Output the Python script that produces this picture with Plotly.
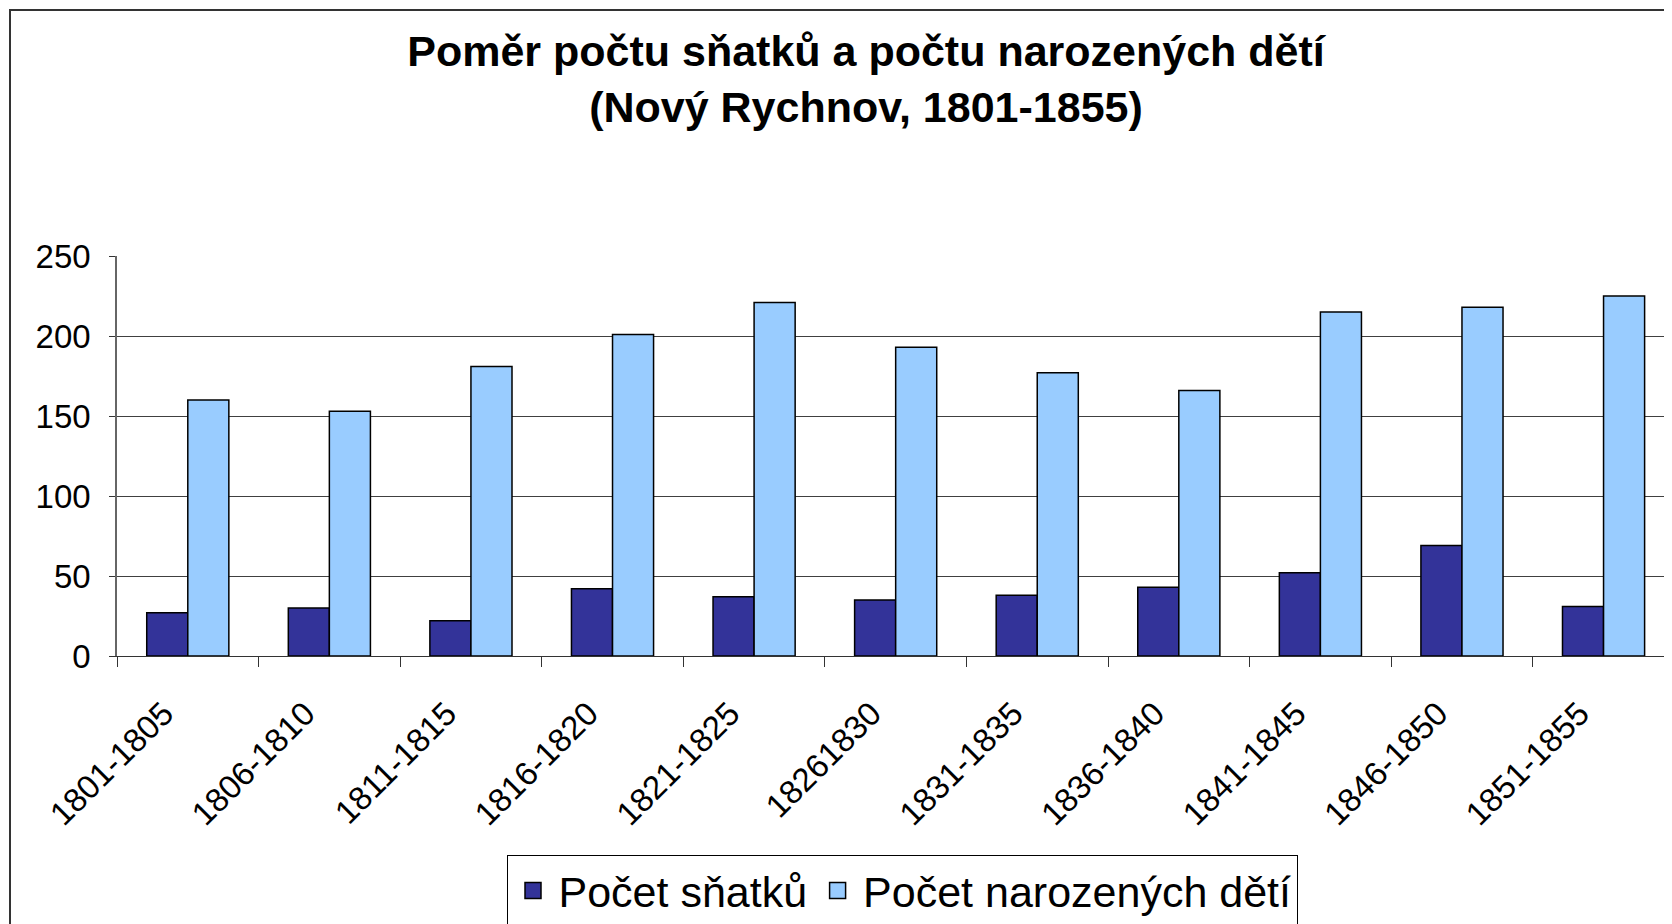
import plotly.graph_objects as go

categories = ["1801-1805", "1806-1810", "1811-1815", "1816-1820", "1821-1825",
              "18261830", "1831-1835", "1836-1840", "1841-1845", "1846-1850", "1851-1855"]
snatky = [27, 30, 22, 42, 37, 35, 38, 43, 52, 69, 31]
narozeni = [160, 153, 181, 201, 221, 193, 177, 166, 215, 218, 225]
y_ticks = [0, 50, 100, 150, 200, 250]

name_s = "Počet sňatků"
name_n = "Počet narozených dětí"
col_s = "#333399"
col_n = "#99CCFF"
FONT = "Liberation Sans, Arial, sans-serif"

W, H = 1672, 924
L, T, B = 109, 248, 276
plot_w = W - L
plot_h = H - T - B

fig = go.Figure()
fig.add_trace(go.Bar(x=categories, y=snatky, name=name_s, marker_color=col_s,
                     marker_line_color="black", marker_line_width=1.5, showlegend=False))
fig.add_trace(go.Bar(x=categories, y=narozeni, name=name_n, marker_color=col_n,
                     marker_line_color="black", marker_line_width=1.5, showlegend=False))
# legend entries
for nm, c in [(name_s, col_s), (name_n, col_n)]:
    fig.add_trace(go.Scatter(x=[None], y=[None], mode="markers", name=nm,
                             marker=dict(symbol="square", size=16, color=c,
                                         line=dict(color="black", width=1.5))))

def px_x(px):
    return (px - L) / plot_w

def px_y(py):
    return (H - B - py) / plot_h

fig.update_layout(
    width=W, height=H,
    margin=dict(l=L, r=0, t=T, b=B),
    paper_bgcolor="white", plot_bgcolor="white",
    barmode="group", bargap=0.42, bargroupgap=0,
    font=dict(family=FONT, color="black"),
    title=dict(text="<b>Poměr počtu sňatků a počtu narozených dětí<br>(Nový Rychnov, 1801-1855)</b>",
               x=858 / W, xref="container", xanchor="center",
               y=1 - 58 / H, yref="container", yanchor="middle",
               font=dict(size=43, family=FONT, color="black")),
    xaxis=dict(type="category", range=[-0.5, 10.54], showline=True, linecolor="#333",
               linewidth=1, ticks="outside", tickson="boundaries", ticklen=10,
               tickcolor="#333", tickangle=-45, tickfont=dict(size=33, family=FONT),
               ticklabelstandoff=24, ticklabelshift=-24,
               showgrid=False, zeroline=False),
    yaxis=dict(range=[0, 250], tickvals=y_ticks, showline=True, linecolor="#666",
               linewidth=1.5, ticks="outside", ticklen=6, tickcolor="#333",
               tickfont=dict(size=33, family=FONT), showgrid=True, gridcolor="#404040",
               gridwidth=1, zeroline=False, ticklabelstandoff=12),
    legend=dict(orientation="h", x=px_x(894), xanchor="center", y=px_y(847), yanchor="top",
                xref="paper", yref="paper",
                bordercolor="black", borderwidth=1, bgcolor="white",
                font=dict(size=43, family=FONT), itemsizing="trace", itemwidth=41),
    shapes=[dict(type="rect", xref="paper", yref="paper",
                 x0=px_x(2), x1=px_x(W + 20), y0=px_y(H + 20), y1=px_y(2),
                 line=dict(color="#333", width=2), fillcolor="rgba(0,0,0,0)", layer="below")],
)

fig.write_html("out.html")
